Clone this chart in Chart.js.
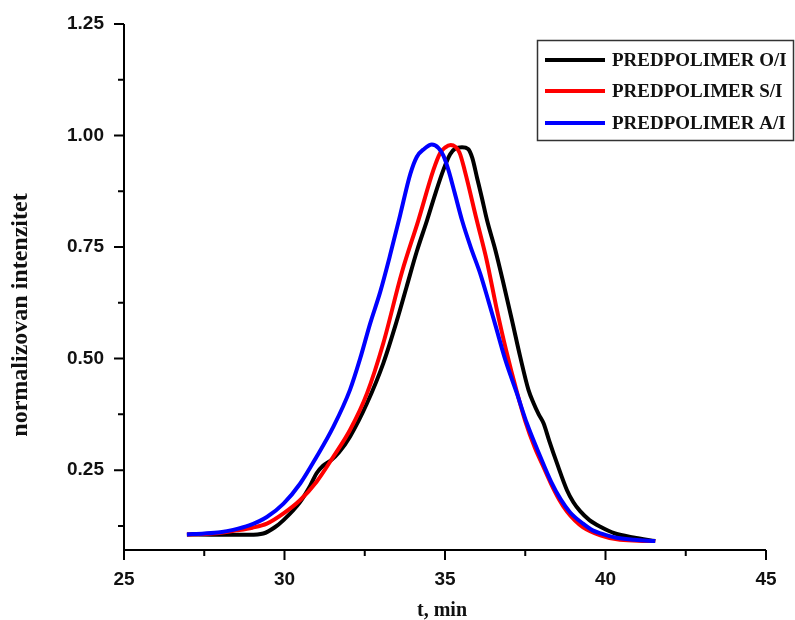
<!DOCTYPE html>
<html>
<head>
<meta charset="utf-8">
<script src="https://cdn.jsdelivr.net/npm/chart.js@4"></script>
<style>
  html, body { margin: 0; padding: 0; background: #fff; }
  #wrap { width: 795px; height: 620px; }
</style>
</head>
<body>
<div id="wrap"><canvas id="chart" width="795" height="620"></canvas></div>
<script>
// series labels
const seriesNames = ["PREDPOLIMER O/I", "PREDPOLIMER S/I", "PREDPOLIMER A/I"];
const seriesColors = ["#000000", "#ff0000", "#0000ff"];

// PREDPOLIMER O/I
const oiT = [26.96, 28.0, 28.9, 29.34, 29.7, 29.97, 30.49, 30.8, 31.0, 31.2, 31.45, 31.7, 32.04, 32.57, 33.08, 33.5, 33.8, 34.12, 34.44, 34.7, 34.95, 35.16, 35.32, 35.53, 35.72, 35.85, 36.0, 36.15, 36.31, 36.57, 36.8, 37.09, 37.34, 37.6, 37.76, 37.92, 38.07, 38.25, 38.49, 38.8, 39.0, 39.21, 39.5, 39.84, 40.3, 40.87, 41.55];
const oiI = [0.106, 0.105, 0.105, 0.108, 0.122, 0.138, 0.179, 0.215, 0.243, 0.26, 0.272, 0.29, 0.325, 0.4, 0.49, 0.585, 0.66, 0.74, 0.81, 0.87, 0.923, 0.958, 0.971, 0.974, 0.97, 0.95, 0.905, 0.86, 0.81, 0.743, 0.675, 0.585, 0.505, 0.43, 0.4, 0.375, 0.355, 0.315, 0.265, 0.205, 0.178, 0.158, 0.138, 0.123, 0.108, 0.099, 0.091];

// PREDPOLIMER S/I
const siT = [26.96, 27.77, 28.5, 29.0, 29.45, 29.97, 30.49, 31.0, 31.52, 32.04, 32.57, 33.08, 33.66, 34.17, 34.64, 34.85, 35.0, 35.18, 35.45, 35.62, 35.99, 36.3, 36.6, 36.9, 37.24, 37.5, 37.8, 38.05, 38.3, 38.55, 38.8, 39.05, 39.3, 39.84, 40.36, 41.0, 41.55];
const siI = [0.106, 0.108, 0.115, 0.121, 0.13, 0.153, 0.183, 0.224, 0.28, 0.34, 0.422, 0.535, 0.694, 0.81, 0.923, 0.961, 0.973, 0.979, 0.962, 0.92, 0.81, 0.72, 0.615, 0.52, 0.425, 0.36, 0.3, 0.26, 0.22, 0.185, 0.157, 0.137, 0.122, 0.104, 0.095, 0.092, 0.091];

// PREDPOLIMER A/I
const aiT = [26.96, 27.5, 28.0, 28.4, 28.9, 29.45, 29.97, 30.49, 31.0, 31.52, 32.04, 32.36, 32.67, 32.98, 33.29, 33.6, 33.92, 34.12, 34.35, 34.59, 34.8, 34.95, 35.11, 35.3, 35.53, 35.8, 36.1, 36.35, 36.57, 36.88, 37.24, 37.55, 37.97, 38.3, 38.6, 38.9, 39.3, 39.6, 39.9, 40.3, 40.9, 41.55];
const aiI = [0.106, 0.108, 0.111, 0.116, 0.126, 0.145, 0.175, 0.22, 0.28, 0.347, 0.43, 0.501, 0.579, 0.649, 0.732, 0.821, 0.914, 0.952, 0.97, 0.98, 0.972, 0.955, 0.922, 0.872, 0.81, 0.75, 0.69, 0.63, 0.575, 0.497, 0.422, 0.355, 0.28, 0.225, 0.185, 0.155, 0.13, 0.115, 0.107, 0.099, 0.094, 0.091];

// axis ticks
const xTicks = [25, 30, 35, 40, 45];
const xMinor = [27.5, 32.5, 37.5, 42.5];
const yTicks = [0.25, 0.50, 0.75, 1.00, 1.25];
const yMinor = [0.125, 0.375, 0.625, 0.875, 1.125];

const xTitle = "t, min";
const yTitle = "normalizovan intenzitet";

const toPoints = (ts, vs) => ts.map((t, i) => ({ x: t, y: vs[i] }));
const seriesData = [toPoints(oiT, oiI), toPoints(siT, siI), toPoints(aiT, aiI)];

// axis lines, tick marks and titles
const axesPlugin = {
  id: "axes",
  afterDraw(chart) {
    const { ctx, chartArea: a, scales: { x, y } } = chart;
    ctx.save();
    ctx.strokeStyle = "#000";
    ctx.lineWidth = 2;
    ctx.beginPath();
    ctx.moveTo(a.left, y.getPixelForValue(yTicks[yTicks.length - 1]));
    ctx.lineTo(a.left, a.bottom);
    ctx.lineTo(x.getPixelForValue(xTicks[xTicks.length - 1]), a.bottom);
    ctx.stroke();

    ctx.beginPath();
    yTicks.forEach(v => { const py = y.getPixelForValue(v); ctx.moveTo(a.left, py); ctx.lineTo(a.left - 10, py); });
    yMinor.forEach(v => { const py = y.getPixelForValue(v); ctx.moveTo(a.left, py); ctx.lineTo(a.left - 6, py); });
    xTicks.forEach(v => { const px = x.getPixelForValue(v); ctx.moveTo(px, a.bottom); ctx.lineTo(px, a.bottom + 10); });
    xMinor.forEach(v => { const px = x.getPixelForValue(v); ctx.moveTo(px, a.bottom); ctx.lineTo(px, a.bottom + 6); });
    ctx.stroke();

    ctx.fillStyle = "#111";
    ctx.font = "bold 20px 'Liberation Serif'";
    ctx.textAlign = "center";
    ctx.textBaseline = "alphabetic";
    ctx.fillText(xTitle, 442, 616);

    ctx.translate(27, 315);
    ctx.rotate(-Math.PI / 2);
    ctx.font = "bold 24px 'Liberation Serif'";
    ctx.fillText(yTitle, 0, 0);
    ctx.restore();
  }
};

// boxed legend at top right
const legendPlugin = {
  id: "boxLegend",
  afterDraw(chart) {
    const ctx = chart.ctx;
    ctx.save();
    ctx.strokeStyle = "#333";
    ctx.lineWidth = 1.5;
    ctx.strokeRect(537.5, 40.5, 256, 100);
    const rows = [60, 91, 123];
    ctx.font = "bold 19px 'Liberation Serif'";
    ctx.textBaseline = "middle";
    ctx.textAlign = "left";
    chart.data.datasets.forEach((ds, i) => {
      ctx.strokeStyle = ds.borderColor;
      ctx.lineWidth = 4;
      ctx.beginPath();
      ctx.moveTo(545, rows[i]);
      ctx.lineTo(605, rows[i]);
      ctx.stroke();
      ctx.fillStyle = "#111";
      ctx.fillText(ds.label, 612, rows[i] + 1);
    });
    ctx.restore();
  }
};

new Chart(document.getElementById("chart"), {
  type: "scatter",
  data: {
    datasets: seriesNames.map((name, i) => ({
      label: name,
      data: seriesData[i],
      borderColor: seriesColors[i],
      backgroundColor: seriesColors[i],
      borderWidth: 4,
      showLine: true,
      pointRadius: 0,
      cubicInterpolationMode: "monotone",
      order: 2 - i
    }))
  },
  options: {
    responsive: false,
    animation: false,
    layout: { padding: { left: 0, top: 24, right: 29, bottom: 0 } },
    plugins: { legend: { display: false }, tooltip: { enabled: false } },
    scales: {
      x: {
        type: "linear",
        min: 25,
        max: 45,
        afterFit: s => { s.height = 70; },
        afterBuildTicks: s => { s.ticks = xTicks.map(v => ({ value: v })); },
        grid: { display: false, drawTicks: true, tickLength: 10 },
        border: { display: false },
        ticks: {
          padding: 8,
          color: "#111",
          font: { family: "'Liberation Sans'", weight: "bold", size: 19 },
          callback: v => String(v)
        }
      },
      y: {
        type: "linear",
        min: 0.071,
        max: 1.25,
        afterFit: s => { s.width = 124; },
        afterBuildTicks: s => { s.ticks = yTicks.map(v => ({ value: v })); },
        grid: { display: false, drawTicks: true, tickLength: 10 },
        border: { display: false },
        ticks: {
          padding: 10,
          color: "#111",
          font: { family: "'Liberation Sans'", weight: "bold", size: 19 },
          callback: v => Number(v).toFixed(2)
        }
      }
    }
  },
  plugins: [axesPlugin, legendPlugin]
});
</script>
</body>
</html>
